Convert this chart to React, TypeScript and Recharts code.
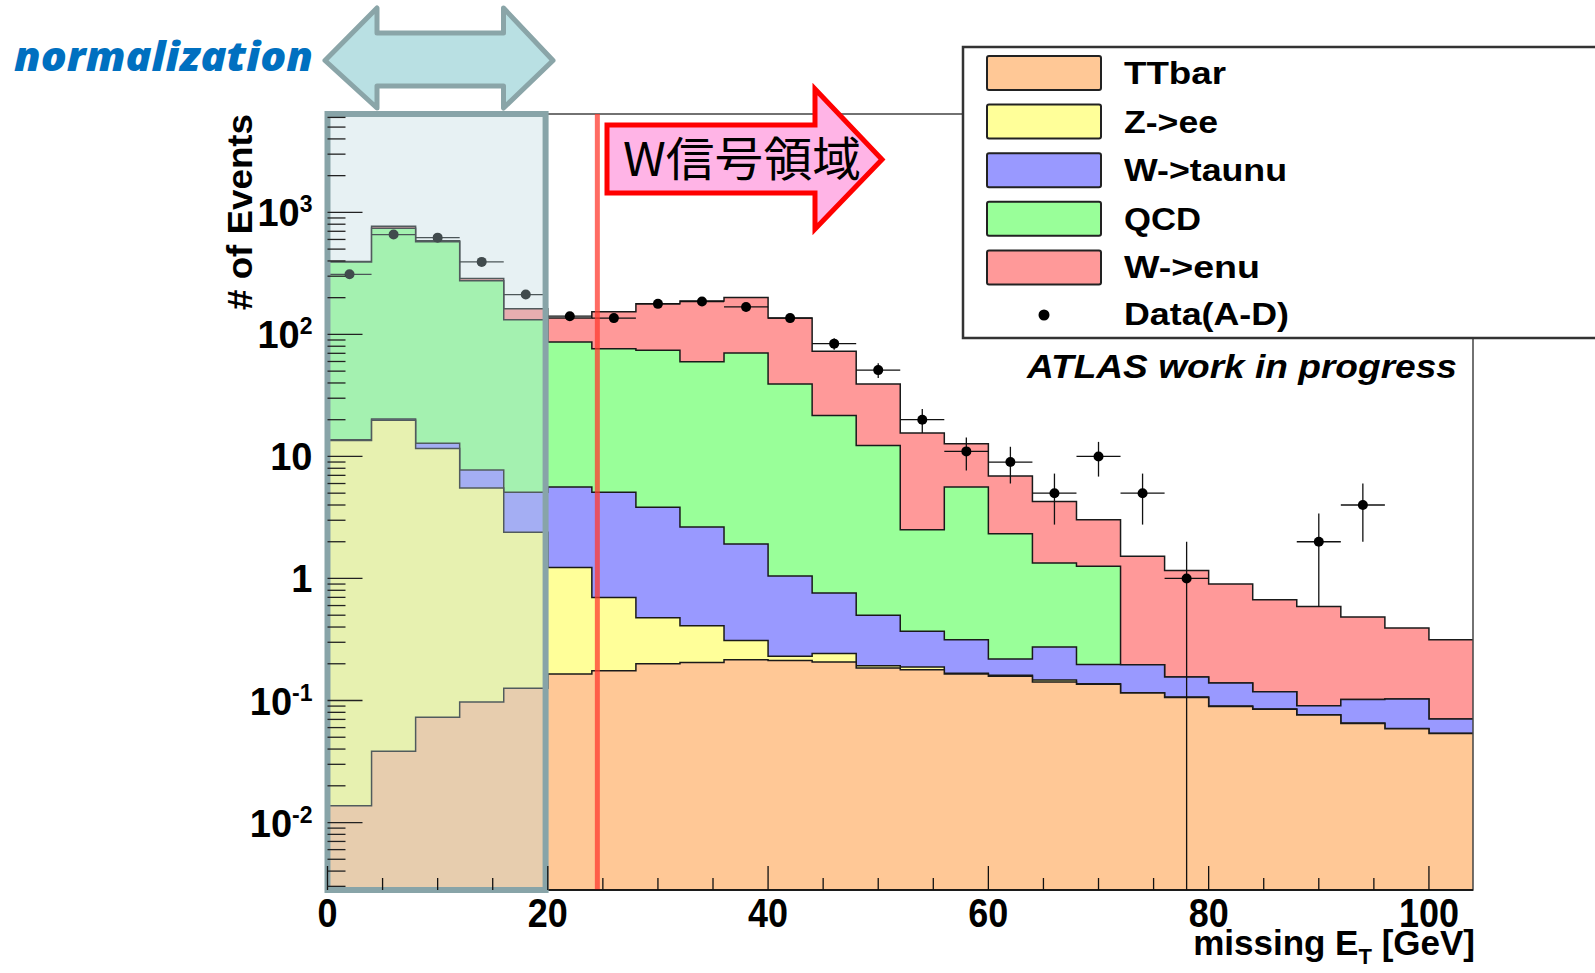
import React from "react";
import {
  Area,
  ComposedChart,
  ErrorBar,
  ReferenceArea,
  ReferenceLine,
  Scatter,
  XAxis,
  YAxis,
} from "recharts";

// 26 bins of 4 GeV in missing E_T
const binLow = [0, 4, 8, 12, 16, 20, 24, 28, 32, 36, 40, 44, 48, 52, 56, 60, 64, 68, 72, 76, 80, 84, 88, 92, 96, 100];
const X_MAX = 104;

// stacked heights as drawn (THStack order: TTbar, Z->ee, W->taunu, QCD, W->enu)
const ttbarTop = [0.0137, 0.0383, 0.073, 0.097, 0.126, 0.165, 0.175, 0.2, 0.205, 0.216, 0.213, 0.207, 0.185, 0.179, 0.165, 0.158, 0.142, 0.136, 0.115, 0.106, 0.0895, 0.0846, 0.076, 0.0649, 0.0587, 0.0537];
const zeeTop = [13.5, 19.8, 11.6, 5.52, 2.39, 1.23, 0.7, 0.477, 0.41, 0.31, 0.23, 0.243, 0.193, 0.188, 0.167, 0.161, 0.147, 0.137, 0.116, 0.107, 0.09, 0.085, 0.0765, 0.0653, 0.059, 0.054];
const wtaunuTop = [13.7, 20.3, 12.8, 7.75, 5.08, 5.62, 5.08, 3.83, 2.64, 1.92, 1.05, 0.76, 0.499, 0.369, 0.315, 0.219, 0.274, 0.197, 0.196, 0.156, 0.139, 0.118, 0.0907, 0.102, 0.103, 0.0706];
const qcdTop = [393, 740, 575, 275, 132, 86.8, 76.4, 74, 59.6, 70.5, 39.3, 21.7, 12.3, 2.51, 5.62, 2.33, 1.34, 1.26, 0.196, 0.156, 0.139, 0.118, 0.0907, 0.102, 0.103, 0.0706];
const wenuTop = [395, 769, 585, 287, 162, 136, 153, 178, 188, 201, 136, 72.7, 39.3, 15.6, 12.7, 6.92, 4.28, 3.03, 1.52, 1.16, 0.9, 0.67, 0.59, 0.484, 0.393, 0.315];

// Data (A-D), event counts per bin, null = empty bin
const dataCounts = [311, 658, 621, 393, 212, 141, 136, 178, 186, 168, 136, 84, 51, 20, 11, 9, 5, 10, 5, 1, null, null, 2, 4, null, null];

const xTicks = [0, 5, 10, 15, 20, 25, 30, 35, 40, 45, 50, 55, 60, 65, 70, 75, 80, 85, 90, 95, 100];
const xLabelTicks = [0, 20, 40, 60, 80, 100];
const yDecades = [-3, -2, -1, 0, 1, 2, 3];
const Y_MIN = 0.0028;
const Y_MAX = 6400;

const legendLabels = ["TTbar", "Z->ee", "W->taunu", "QCD", "W->enu"];
const legendColors = ["#ffc896", "#ffff99", "#9999ff", "#99ff99", "#ff9999"];

const yTicks: number[] = [];
yDecades.forEach((d) => {
  for (let k = 1; k <= 9; k++) {
    const v = k * Math.pow(10, d);
    if (v >= Y_MIN && v <= Y_MAX) yTicks.push(Number(v.toPrecision(3)));
  }
});

const rows = [...binLow, X_MAX].map((x, i) => {
  const j = Math.min(i, binLow.length - 1);
  return {
    x,
    ttbar: ttbarTop[j],
    zee: zeeTop[j],
    wtaunu: wtaunuTop[j],
    qcd: qcdTop[j],
    wenu: wenuTop[j],
  };
});

const points = dataCounts.flatMap((n, i) =>
  n == null
    ? []
    : [
        {
          x: binLow[i] + 2,
          y: n,
          ey: [Math.min(Math.sqrt(n), n - Y_MIN * 1.01), Math.sqrt(n)],
          ex: 2,
        },
      ]
);

const FONT = "'Liberation Sans', Arial, Helvetica, sans-serif";

function XTick(props: any) {
  const { x, y, payload } = props;
  const v = payload.value;
  const major = xLabelTicks.includes(v);
  const label = String(v);
  return (
    <g>
      <line x1={x} x2={x} y1={y} y2={y - (major ? 24 : 12)} stroke="#111" strokeWidth={1.3} />
      {major && (
        <text
          x={x}
          y={y + 37}
          textAnchor="middle"
          fontFamily={FONT}
          fontWeight="bold"
          fontSize={41}
          textLength={label.length * 20}
          lengthAdjust="spacingAndGlyphs"
          fill="#000"
        >
          {label}
        </text>
      )}
    </g>
  );
}

function YTick(props: any) {
  const { x, y, payload } = props;
  const v = payload.value;
  const lg = Math.log10(v);
  const major = Math.abs(lg - Math.round(lg)) < 1e-6;
  const e = Math.round(lg);
  let label: React.ReactNode = null;
  if (major) {
    if (e === 0 || e === 1) {
      label = <tspan>{e === 0 ? "1" : "10"}</tspan>;
    } else {
      label = (
        <>
          <tspan>10</tspan>
          <tspan dy={-14} fontSize={23}>
            {e < 0 ? "-" + -e : String(e)}
          </tspan>
        </>
      );
    }
  }
  const showLabel = major && v >= 0.01;
  return (
    <g>
      <line x1={x} x2={x + (major ? 35 : 18)} y1={y} y2={y} stroke="#222" strokeWidth={1.3} />
      {showLabel && (
        <text
          x={x - 15}
          y={y + 14}
          textAnchor="end"
          fontFamily={FONT}
          fontWeight="bold"
          fontSize={38}
          fill="#000"
        >
          {label}
        </text>
      )}
    </g>
  );
}

function Overlay() {
  const rowTop = 56;
  const rowStep = 48.6;
  const labelWidths = [102, 94, 163, 77, 136];
  return (
    <svg
      width={1595}
      height={973}
      style={{ position: "absolute", left: 0, top: 0, pointerEvents: "none" }}
    >
      {/* normalization double arrow */}
      <path
        d="M325,60.5 L377,8 L377,33 L503.5,33 L503.5,8 L553,60.5 L503.5,108 L503.5,86 L377,86 L377,108 Z"
        fill="#b9e0e3"
        stroke="#8aa5a8"
        strokeWidth={5}
        strokeLinejoin="round"
      />
      <text
        x={14}
        y={71}
        fontFamily="'Open Sans', Lato, sans-serif"
        fontWeight={800}
        fontStyle="italic"
        fontSize={40}
        fill="#0070c0"
        textLength={299}
        lengthAdjust="spacingAndGlyphs"
      >
        normalization
      </text>

      {/* W signal region arrow */}
      <path
        d="M607,125 L815,125 L815,89 L882,159.5 L815,229 L815,193 L607,193 Z"
        fill="#ffb4e6"
        stroke="#ff0000"
        strokeWidth={5}
        strokeLinejoin="miter"
      />
      <text
        x={623}
        y={176}
        fontFamily="'Noto Sans CJK JP', 'Noto Sans CJK SC', sans-serif"
        fontSize={47}
        fill="#000"
        textLength={238}
        lengthAdjust="spacingAndGlyphs"
      >
        W信号領域
      </text>

      {/* legend */}
      <rect x={963} y={47} width={700} height={291} fill="#fff" stroke="#333" strokeWidth={2.5} />
      {legendLabels.map((lab, i) => {
        const top = rowTop + i * rowStep;
        return (
          <g key={lab}>
            <rect
              x={987}
              y={top}
              width={114}
              height={34}
              rx={2}
              fill={legendColors[i]}
              stroke="#222"
              strokeWidth={2}
            />
            <text
              x={1124}
              y={top + 28}
              fontFamily={FONT}
              fontWeight="bold"
              fontSize={31}
              fill="#000"
              textLength={labelWidths[i]}
              lengthAdjust="spacingAndGlyphs"
            >
              {lab}
            </text>
          </g>
        );
      })}
      <circle cx={1044} cy={315} r={5.5} fill="#000" />
      <text
        x={1124}
        y={325}
        fontFamily={FONT}
        fontWeight="bold"
        fontSize={31}
        fill="#000"
        textLength={165}
        lengthAdjust="spacingAndGlyphs"
      >
        Data(A-D)
      </text>

      <text
        x={1027}
        y={378}
        fontFamily={FONT}
        fontWeight="bold"
        fontStyle="italic"
        fontSize={33}
        fill="#000"
        textLength={430}
        lengthAdjust="spacingAndGlyphs"
      >
        ATLAS work in progress
      </text>

      {/* axis titles */}
      <text
        transform="translate(252,212) rotate(-90)"
        textAnchor="middle"
        fontFamily={FONT}
        fontWeight="bold"
        fontSize={35}
        fill="#000"
        textLength={196}
        lengthAdjust="spacingAndGlyphs"
      >
        # of Events
      </text>
      <text
        x={1475}
        y={955}
        textAnchor="end"
        fontFamily={FONT}
        fontWeight="bold"
        fontSize={35}
        fill="#000"
      >
        <tspan>missing E</tspan>
        <tspan dy={9} fontSize={22}>T</tspan>
        <tspan dy={-9}> [GeV]</tspan>
      </text>
    </svg>
  );
}

export default function App() {
  return (
    <div style={{ position: "relative", width: 1595, height: 973, background: "#fff" }}>
      <style>{"body{margin:0}"}</style>
      <ComposedChart
        width={1595}
        height={973}
        data={rows}
        margin={{ top: 114, right: 122, bottom: 0, left: 0 }}
      >
        <XAxis
          dataKey="x"
          type="number"
          domain={[0, X_MAX]}
          allowDataOverflow
          ticks={xTicks}
          interval={0}
          tickSize={0}
          tickMargin={0}
          tick={<XTick />}
          height={83}
          axisLine={{ stroke: "#000", strokeWidth: 1.5 }}
          tickLine={false}
        />
        <YAxis
          type="number"
          scale="log"
          domain={[Y_MIN, Y_MAX]}
          allowDataOverflow
          ticks={yTicks}
          interval={0}
          tickSize={0}
          tickMargin={0}
          tick={<YTick />}
          width={327.5}
          axisLine={{ stroke: "#000", strokeWidth: 1.5 }}
          tickLine={false}
        />
        <Area dataKey="wenu" type="stepAfter" fill="#ff9999" fillOpacity={1} stroke="#1a1a1a" strokeWidth={1.5} isAnimationActive={false} activeDot={false} />
        <Area dataKey="qcd" type="stepAfter" fill="#99ff99" fillOpacity={1} stroke="#1a1a1a" strokeWidth={1.5} isAnimationActive={false} activeDot={false} />
        <Area dataKey="wtaunu" type="stepAfter" fill="#9999ff" fillOpacity={1} stroke="#1a1a1a" strokeWidth={1.5} isAnimationActive={false} activeDot={false} />
        <Area dataKey="zee" type="stepAfter" fill="#ffff99" fillOpacity={1} stroke="#1a1a1a" strokeWidth={1.5} isAnimationActive={false} activeDot={false} />
        <Area dataKey="ttbar" type="stepAfter" fill="#ffc896" fillOpacity={1} stroke="#1a1a1a" strokeWidth={1.5} isAnimationActive={false} activeDot={false} />
        <Scatter data={points} dataKey="y" fill="#000" isAnimationActive={false} shape={(p: any) => <circle cx={p.cx} cy={p.cy} r={5} fill="#000" />}>
          <ErrorBar dataKey="ey" direction="y" width={0} stroke="#111" strokeWidth={1.3} />
          <ErrorBar dataKey="ex" direction="x" width={0} stroke="#111" strokeWidth={1.3} />
        </Scatter>
        <ReferenceArea x1={0} x2={X_MAX} y1={Y_MIN} y2={Y_MAX} fill="none" stroke="#444" strokeWidth={1.5} ifOverflow="visible" />
        <ReferenceLine x={24.5} stroke="#ff3b2f" strokeOpacity={0.75} strokeWidth={5} ifOverflow="visible" />
        <ReferenceArea
          x1={0}
          x2={19.8}
          y1={Y_MIN}
          y2={Y_MAX}
          fill="#b9d8dd"
          fillOpacity={0.35}
          stroke="#88a4a8"
          strokeWidth={6}
          ifOverflow="visible"
          {...({ zIndex: 900 } as any)}
        />
      </ComposedChart>
      <Overlay />
    </div>
  );
}
